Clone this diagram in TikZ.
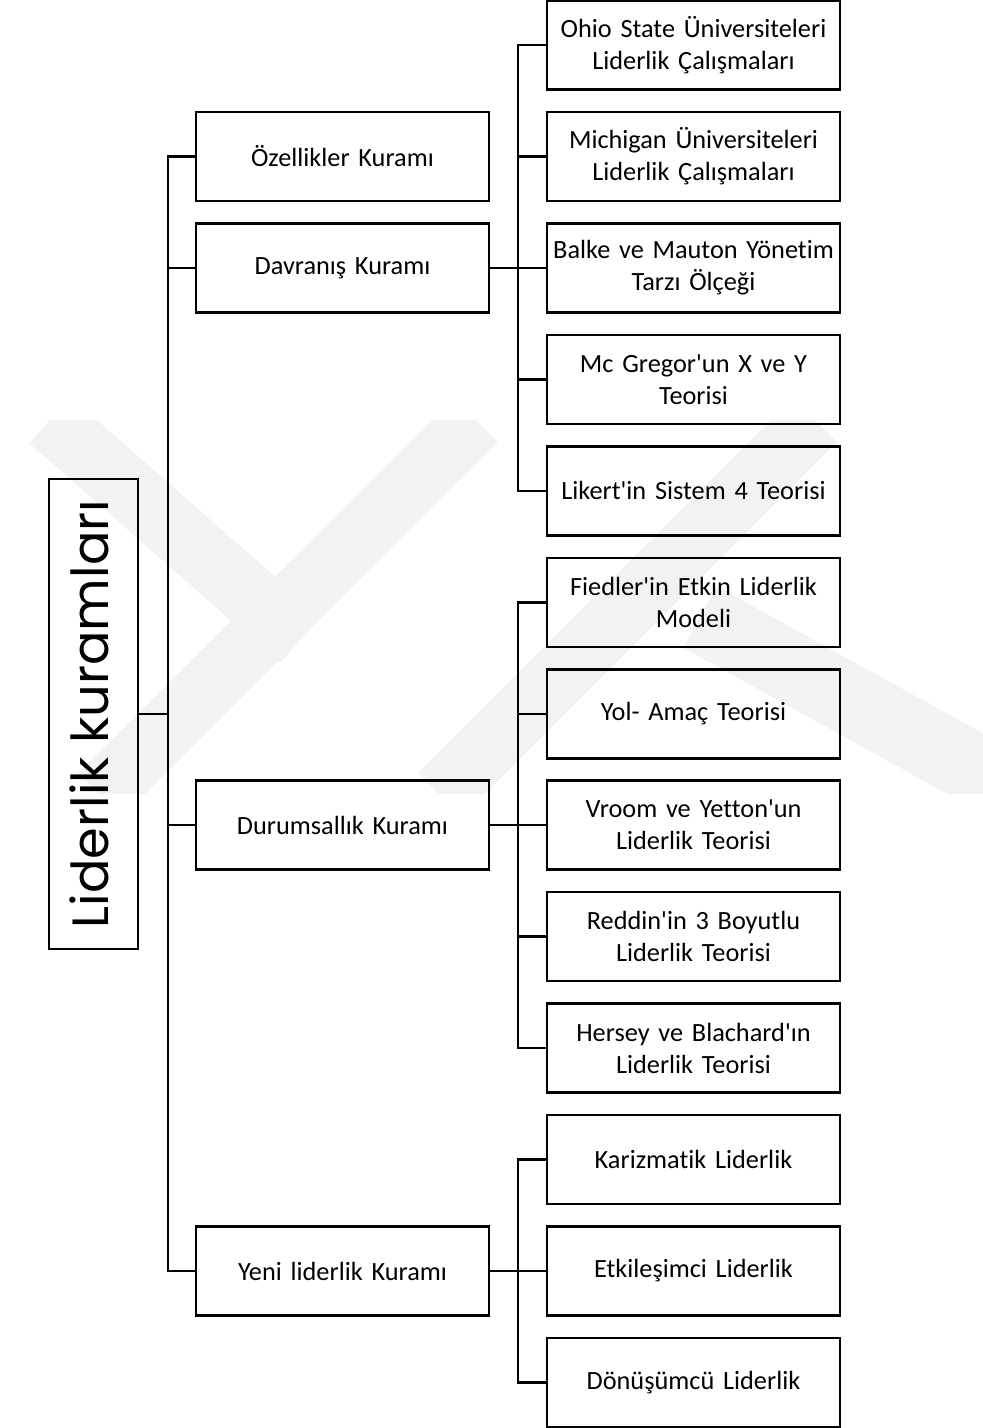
\documentclass[tikz,border=0pt]{standalone}
\usepackage{fontspec}
\setmainfont{Carlito}[Ligatures={TeXOff,NoCommon}]
\newfontfamily\titlefont{Poppins}
\begin{document}
\begin{tikzpicture}[x=1pt,y=-1pt,
  box/.style={draw=black,line width=2.6pt,rectangle,inner sep=0pt,
    minimum width=293pt,minimum height=89pt,align=center,
    text width=285pt,font=\fontsize{26.3}{32}\selectfont},
  link/.style={draw=black,line width=2.4pt},
  emblem/.style={draw=black!5,line width=#1}]
\useasboundingbox (0,0) rectangle (983,1428);
\fill[white] (0,0) rectangle (983,1428);

% faint background emblem
\begin{scope}
  \clip (0,420) rectangle (983,793);
  \draw[emblem=62pt] (50,420) -- (300,640);
  \draw[emblem=62pt] (476,420) -- (100,795);
  \draw[emblem=62pt] (815,420) -- (440,795);
  \draw[emblem=70pt] (700,617) -- (1040,805);
\end{scope}

% root
\node[draw=black,line width=2.6pt,rectangle,inner sep=0pt,
  minimum width=89pt,minimum height=470pt] (root) at (93.5,714) {};
\node[rotate=90,font=\titlefont\fontsize{51}{60}\selectfont] (rootlabel) at (89,714) {Liderlik kuramları};

% second level
\node[box] (ozel) at (342.5,156.5) {Özellikler Kuramı};
\node[box] (davr) at (342.5,267.9) {Davranış Kuramı};
\node[box] (durum) at (342.5,825.2) {Durumsallık Kuramı};
\node[box] (yeni) at (342.5,1271) {Yeni liderlik Kuramı};

% third level
\node[box] (ohio) at (693.5,45) {Ohio State Üniversiteleri\\Liderlik Çalışmaları};
\node[box] (mich) at (693.5,156.5) {Michigan Üniversiteleri\\Liderlik Çalışmaları};
\node[box] (balke) at (693.5,267.9) {Balke ve Mauton Yönetim\\Tarzı Ölçeği};
\node[box] (mcg) at (693.5,379.4) {Mc Gregor'un X ve Y\\Teorisi};
\node[box] (likert) at (693.5,490.8) {Likert'in Sistem 4 Teorisi};
\node[box] (fied) at (693.5,602.3) {Fiedler'in Etkin Liderlik\\Modeli};
\node[box] (yol) at (693.5,713.7) {Yol- Amaç Teorisi};
\node[box] (vroom) at (693.5,825.2) {Vroom ve Yetton'un\\Liderlik Teorisi};
\node[box] (redd) at (693.5,936.6) {Reddin'in 3 Boyutlu\\Liderlik Teorisi};
\node[box] (hers) at (693.5,1048.1) {Hersey ve Blachard'ın\\Liderlik Teorisi};
\node[box] (kari) at (693.5,1159.5) {Karizmatik Liderlik};
\node[box] (etki) at (693.5,1271) {Etkileşimci Liderlik};
\node[box] (donu) at (693.5,1382.4) {Dönüşümcü Liderlik};

% bus positions
\coordinate (trunk) at (168,0);
\coordinate (bus) at (518,0);

% root to second level
\draw[link] (root.east) -- (root.east -| trunk);
\draw[link] (ozel.west) -- (ozel.west -| trunk) -- (yeni.west -| trunk) -- (yeni.west);
\foreach \n in {davr,durum}
  \draw[link] (\n.west) -- (\n.west -| trunk);

% Davranış branch
\draw[link] (davr.east) -- (davr.east -| bus);
\draw[link] (ohio.west) -- (ohio.west -| bus) -- (likert.west -| bus) -- (likert.west);
\foreach \n in {mich,balke,mcg}
  \draw[link] (\n.west) -- (\n.west -| bus);

% Durumsallık branch
\draw[link] (durum.east) -- (durum.east -| bus);
\draw[link] (fied.west) -- (fied.west -| bus) -- (hers.west -| bus) -- (hers.west);
\foreach \n in {yol,vroom,redd}
  \draw[link] (\n.west) -- (\n.west -| bus);

% Yeni liderlik branch
\draw[link] (yeni.east) -- (yeni.east -| bus);
\draw[link] (kari.west) -- (kari.west -| bus) -- (donu.west -| bus) -- (donu.west);
\draw[link] (etki.west) -- (etki.west -| bus);
\end{tikzpicture}
\end{document}
